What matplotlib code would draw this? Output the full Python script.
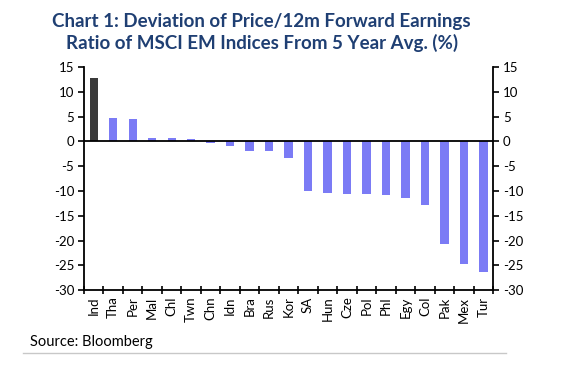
import matplotlib
matplotlib.use("Agg")
import matplotlib.pyplot as plt
import numpy as np

# data
countries = ["Ind", "Tha", "Per", "Mal", "Chl", "Twn", "Chn", "Idn", "Bra", "Rus", "Kor",
             "SA", "Hun", "Cze", "Pol", "Phl", "Egy", "Col", "Pak", "Mex", "Tur"]
deviation = [12.8, 4.8, 4.6, 0.8, 0.7, 0.5, -0.4, -0.9, -1.9, -2.0, -3.4,
             -10.0, -10.3, -10.5, -10.5, -10.8, -11.4, -12.9, -20.7, -24.8, -26.3]
yticks = [15, 10, 5, 0, -5, -10, -15, -20, -25, -30]

plt.rcParams['font.family'] = ['Lato', 'DejaVu Sans']

fig = plt.figure(figsize=(5.63, 3.65), dpi=100)
ax = fig.add_axes([0.149, 0.205, 0.727, 0.611])

x = np.arange(len(countries))
cols = ['#3a3a3a'] + ['#7b7bf5'] * (len(countries) - 1)
ax.bar(x, deviation, width=0.42, color=cols, zorder=2)
ax.axhline(0, color='black', lw=1.3, zorder=3)

ax.set_xlim(-0.5, len(countries) - 0.5)
ax.set_ylim(-30, 15)
ax.set_yticks(yticks)
ax.set_yticklabels([str(v) for v in yticks])
ax.tick_params(axis='y', direction='out', length=4, width=1.2, labelsize=9.5,
               left=True, right=True, labelleft=True, labelright=True, pad=3)

# ticks between categories, labels under the bars
ax.set_xticks(np.arange(-0.5, len(countries), 1.0))
ax.set_xticklabels([])
ax.tick_params(axis='x', direction='inout', length=6, width=1.2)
for i, c in enumerate(countries):
    ax.text(i, -31.3, c, rotation=90, ha='center', va='top', fontsize=9.5)

ax.spines['top'].set_visible(False)
for s in ['left', 'right', 'bottom']:
    ax.spines[s].set_linewidth(1.3)

fig.text(0.465, 0.912, "Chart 1: Deviation of Price/12m Forward Earnings\nRatio of MSCI EM Indices From 5 Year Avg. (%)",
         ha='center', va='center', fontsize=13.5, fontweight='bold', color='#1f3f73', linespacing=1.25)
fig.text(0.053, 0.063, "Source: Bloomberg", ha='left', va='center', fontsize=10.5)
fig.add_artist(plt.Line2D([0.041, 0.898], [0.033, 0.033], color='#c8c8c8', lw=1))

fig.savefig("out.png", dpi=100)
